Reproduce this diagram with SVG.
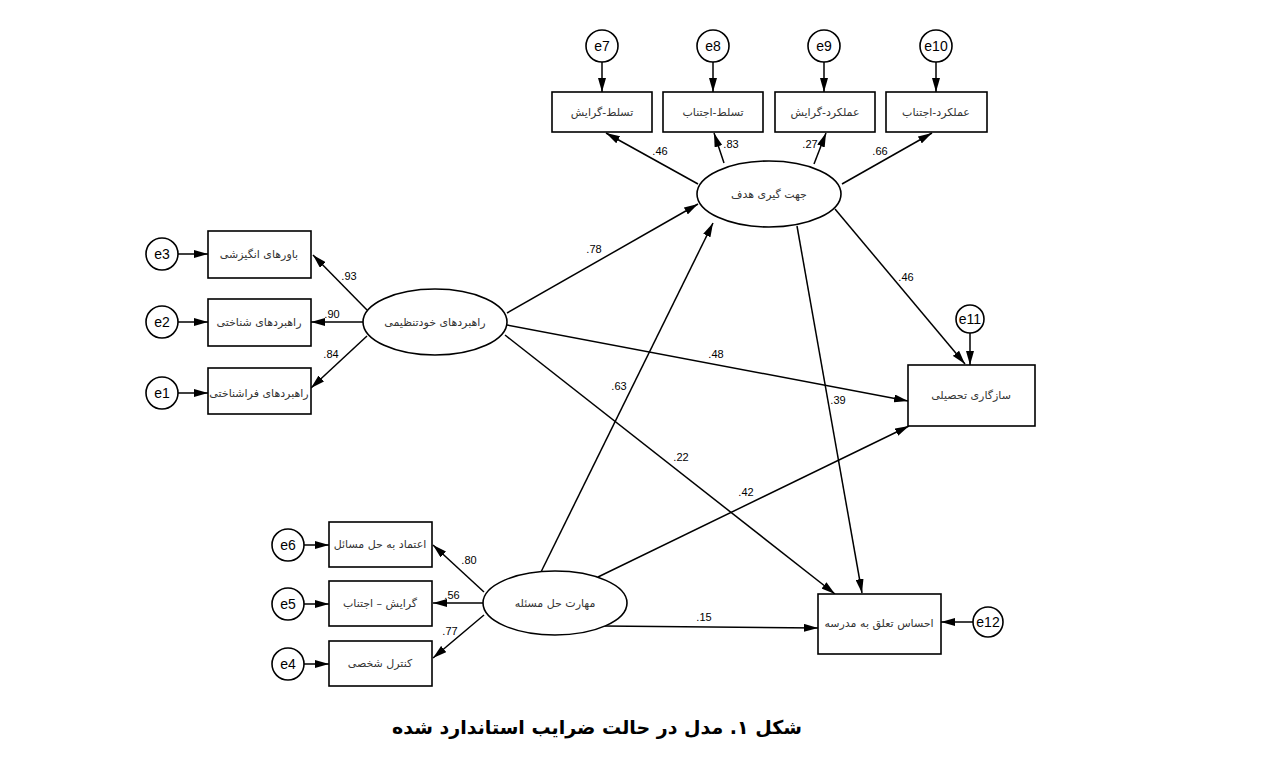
<svg xmlns="http://www.w3.org/2000/svg" width="1267" height="762" viewBox="0 0 1267 762">
<style>
.bx{fill:#fff;stroke:#000;stroke-width:1.6}
.el{fill:#fff;stroke:#000;stroke-width:1.6}
.ci{fill:#fff;stroke:#000;stroke-width:1.6}
.fa{font-family:"DejaVu Sans","Noto Sans",sans-serif;font-size:11px;fill:#333;text-anchor:middle;direction:rtl}
.et{font-family:"Liberation Sans",Arial,sans-serif;font-size:14px;fill:#000;text-anchor:middle}
.nm{font-family:"Liberation Sans",Arial,sans-serif;font-size:11px;fill:#000;text-anchor:middle}
.cn line{stroke:#000;stroke-width:1.5;marker-end:url(#ah)}
.cap{font-family:"DejaVu Sans","Noto Sans",sans-serif;font-size:19px;font-weight:bold;fill:#000;text-anchor:middle;direction:rtl}
</style>
<defs>
<marker id="ah" viewBox="0 0 14 8" refX="14" refY="4" markerWidth="14" markerHeight="8" orient="auto" markerUnits="userSpaceOnUse"><path d="M0,0 L14,4 L0,8 z" fill="#000"/></marker>
</defs>
<rect width="1267" height="762" fill="#fff"/>

<g id="connectors" class="cn">
<!-- error arrows top -->
<line x1="602" y1="62" x2="602" y2="92"/>
<line x1="713" y1="62" x2="713" y2="92"/>
<line x1="824" y1="62" x2="824" y2="92"/>
<line x1="936" y1="62" x2="936" y2="92"/>
<!-- goal loadings -->
<line x1="698" y1="184" x2="606" y2="133"/>
<line x1="724" y1="163" x2="714" y2="133"/>
<line x1="814" y1="164" x2="826" y2="133"/>
<line x1="842" y1="184" x2="932" y2="133"/>
<!-- left errors -->
<line x1="178" y1="254" x2="208" y2="254"/>
<line x1="178" y1="322" x2="208" y2="322"/>
<line x1="178" y1="393" x2="208" y2="393"/>
<!-- self-reg loadings -->
<line x1="367" y1="310" x2="313" y2="255"/>
<line x1="363" y1="322" x2="311" y2="322"/>
<line x1="367" y1="336" x2="311" y2="388"/>
<!-- bottom-left errors -->
<line x1="304" y1="545" x2="329" y2="545"/>
<line x1="304" y1="604" x2="329" y2="604"/>
<line x1="304" y1="664" x2="329" y2="664"/>
<!-- problem-solving loadings -->
<line x1="484" y1="592" x2="433" y2="545"/>
<line x1="483" y1="603" x2="433" y2="603"/>
<line x1="484" y1="615" x2="433" y2="658"/>
<!-- structural -->
<line x1="507" y1="313" x2="698" y2="204"/>
<line x1="507" y1="325" x2="908" y2="401"/>
<line x1="505" y1="335" x2="835" y2="594"/>
<line x1="541" y1="572" x2="713" y2="223"/>
<line x1="598" y1="577" x2="909" y2="426"/>
<line x1="603" y1="626" x2="818" y2="628"/>
<line x1="835" y1="209" x2="965" y2="364"/>
<line x1="797" y1="226" x2="862" y2="593"/>
<!-- e11, e12 -->
<line x1="970" y1="333" x2="970" y2="365"/>
<line x1="973" y1="622" x2="941" y2="622"/>
</g>

<g id="e7"><circle class="ci" cx="602" cy="46" r="16"/><text class="et" x="602" y="51">e7</text></g>
<g id="e8"><circle class="ci" cx="713" cy="46" r="16"/><text class="et" x="713" y="51">e8</text></g>
<g id="e9"><circle class="ci" cx="824" cy="46" r="16"/><text class="et" x="824" y="51">e9</text></g>
<g id="e10"><circle class="ci" cx="936" cy="46" r="16"/><text class="et" x="936" y="51">e10</text></g>

<g id="box-mastery-approach"><rect class="bx" x="552" y="92" width="100" height="40"/><text class="fa" x="602" y="116">تسلط-گرایش</text></g>
<g id="box-mastery-avoid"><rect class="bx" x="663" y="92" width="100" height="40"/><text class="fa" x="713" y="116">تسلط-اجتناب</text></g>
<g id="box-perf-approach"><rect class="bx" x="775" y="92" width="100" height="40"/><text class="fa" x="825" y="116">عملکرد-گرایش</text></g>
<g id="box-perf-avoid"><rect class="bx" x="886" y="92" width="101" height="40"/><text class="fa" x="936" y="116">عملکرد-اجتناب</text></g>

<g id="goal"><ellipse class="el" cx="769" cy="194" rx="72" ry="33"/><text class="fa" x="769" y="198">جهت گیری هدف</text></g>

<g id="e3"><circle class="ci" cx="162" cy="254" r="16"/><text class="et" x="162" y="259">e3</text></g>
<g id="e2"><circle class="ci" cx="162" cy="322" r="16"/><text class="et" x="162" y="327">e2</text></g>
<g id="e1"><circle class="ci" cx="162" cy="393" r="16"/><text class="et" x="162" y="398">e1</text></g>

<g id="box-motiv"><rect class="bx" x="208" y="231" width="103" height="47"/><text class="fa" x="259" y="258">باورهای انگیزشی</text></g>
<g id="box-cog"><rect class="bx" x="208" y="299" width="103" height="47"/><text class="fa" x="259" y="326">راهبردهای شناختی</text></g>
<g id="box-metacog"><rect class="bx" x="208" y="368" width="103" height="46"/><text class="fa" x="259" y="397">راهبردهای فراشناختی</text></g>

<g id="selfreg"><ellipse class="el" cx="435" cy="322" rx="72" ry="33"/><text class="fa" x="435" y="326">راهبردهای خودتنظیمی</text></g>

<g id="e6"><circle class="ci" cx="288" cy="545" r="16"/><text class="et" x="288" y="550">e6</text></g>
<g id="e5"><circle class="ci" cx="288" cy="604" r="16"/><text class="et" x="288" y="609">e5</text></g>
<g id="e4"><circle class="ci" cx="288" cy="664" r="16"/><text class="et" x="288" y="669">e4</text></g>

<g id="box-confidence"><rect class="bx" x="329" y="522" width="103" height="45"/><text class="fa" x="380" y="548">اعتماد به حل مسائل</text></g>
<g id="box-approach-avoid"><rect class="bx" x="329" y="581" width="103" height="45"/><text class="fa" x="380" y="607">گرایش – اجتناب</text></g>
<g id="box-control"><rect class="bx" x="329" y="641" width="103" height="45"/><text class="fa" x="380" y="667">کنترل شخصی</text></g>

<g id="problem"><ellipse class="el" cx="555" cy="603" rx="72" ry="32"/><text class="fa" x="555" y="607">مهارت حل مسئله</text></g>

<g id="e11"><circle class="ci" cx="970" cy="319" r="14"/><text class="et" x="970" y="324">e11</text></g>
<g id="box-adjust"><rect class="bx" x="908" y="365" width="127" height="61"/><text class="fa" x="971" y="399">سازگاری تحصیلی</text></g>

<g id="e12"><circle class="ci" cx="988" cy="622" r="15"/><text class="et" x="988" y="627">e12</text></g>
<g id="box-belong"><rect class="bx" x="818" y="594" width="123" height="60"/><text class="fa" x="879" y="627">احساس تعلق  به مدرسه</text></g>

<g id="labels">
<text class="nm" x="660" y="155">.46</text>
<text class="nm" x="731" y="148">.83</text>
<text class="nm" x="810" y="148">.27</text>
<text class="nm" x="880" y="155">.66</text>
<text class="nm" x="349" y="280">.93</text>
<text class="nm" x="332" y="318">.90</text>
<text class="nm" x="331" y="358">.84</text>
<text class="nm" x="469" y="564">.80</text>
<text class="nm" x="452" y="599">.56</text>
<text class="nm" x="450" y="635">.77</text>
<text class="nm" x="594" y="253">.78</text>
<text class="nm" x="716" y="358">.48</text>
<text class="nm" x="619" y="390">.63</text>
<text class="nm" x="681" y="461">.22</text>
<text class="nm" x="746" y="496">.42</text>
<text class="nm" x="704" y="621">.15</text>
<text class="nm" x="906" y="281">.46</text>
<text class="nm" x="838" y="404">.39</text>
</g>

<text class="cap" x="597" y="734">شکل ۱. مدل در حالت ضرایب استاندارد شده</text>
</svg>
